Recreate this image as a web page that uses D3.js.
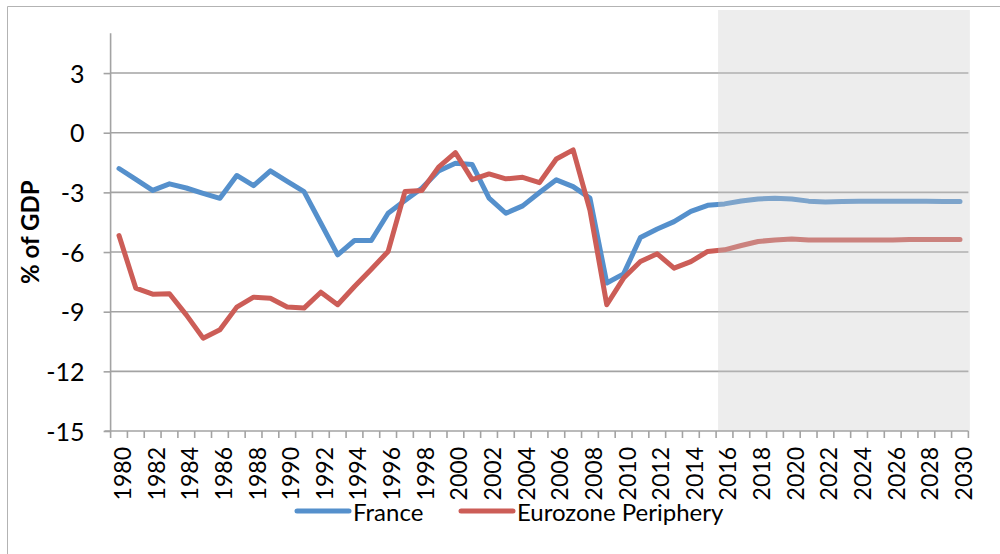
<!DOCTYPE html>
<html>
<head>
<meta charset="utf-8">
<script src="https://cdn.jsdelivr.net/npm/d3@7"></script>
<style>
  body { margin: 0; background: #fff; }
  svg text { font-family: Lato, "Open Sans", sans-serif; fill: #000; }
</style>
</head>
<body>
<div id="chart-container"></div>
<script>
// categories
const years = [1980, 1981, 1982, 1983, 1984, 1985, 1986, 1987, 1988, 1989,
  1990, 1991, 1992, 1993, 1994, 1995, 1996, 1997, 1998, 1999,
  2000, 2001, 2002, 2003, 2004, 2005, 2006, 2007, 2008, 2009,
  2010, 2011, 2012, 2013, 2014, 2015, 2016, 2017, 2018, 2019,
  2020, 2021, 2022, 2023, 2024, 2025, 2026, 2027, 2028, 2029, 2030];

// series values, % of GDP
const france = [-1.8, -2.35, -2.9, -2.57, -2.78, -3.05, -3.3, -2.15, -2.66, -1.92,
  -2.45, -2.96, -4.55, -6.14, -5.42, -5.42, -4.05, -3.41, -2.79, -1.92,
  -1.53, -1.6, -3.29, -4.05, -3.68, -3.01, -2.37, -2.71, -3.29, -7.56,
  -7.1, -5.27, -4.84, -4.47, -3.96, -3.65, -3.58, -3.43, -3.33, -3.29,
  -3.33, -3.44, -3.48, -3.46, -3.45, -3.45, -3.45, -3.45, -3.45, -3.46, -3.46];

const periphery = [-5.17, -7.82, -8.12, -8.1, -9.16, -10.33, -9.91, -8.77, -8.27, -8.32,
  -8.76, -8.82, -8.02, -8.65, -7.73, -6.86, -5.97, -2.96, -2.91, -1.73,
  -1.0, -2.36, -2.07, -2.32, -2.24, -2.51, -1.32, -0.86, -3.9, -8.65,
  -7.31, -6.48, -6.09, -6.81, -6.48, -5.97, -5.89, -5.67, -5.47, -5.39,
  -5.35, -5.4, -5.4, -5.4, -5.4, -5.4, -5.4, -5.37, -5.37, -5.37, -5.37];

const yTicks = [-15, -12, -9, -6, -3, 0, 3];
const forecastStart = 2016;

const seriesNames = ["France", "Eurozone Periphery"];
const seriesColors = ["#5590CC", "#CC5D57"];

const width = 1000;
const height = 554;
const margin = { left: 110.6, right: 31.6, top: 33.3, bottom: 123 };

const svg = d3.select("#chart-container")
    .append("svg")
    .attr("width", width)
    .attr("height", height);

// outer chart border (clipped at right/bottom)
svg.append("path")
    .attr("d", `M7.5,${height} V6.5 H${width}`)
    .attr("fill", "none")
    .attr("stroke", "#b3b3b3")
    .attr("stroke-width", 1);

const xScale = d3.scaleBand()
    .domain(years)
    .range([margin.left, width - margin.right]);

const yScale = d3.scaleLinear()
    .domain([-15, 5])
    .range([height - margin.bottom, margin.top]);

// gridlines
svg.append("g")
    .selectAll("line")
    .data(yTicks.filter(t => t !== -15))
    .enter()
    .append("line")
    .attr("x1", margin.left)
    .attr("x2", width - margin.right)
    .attr("y1", d => yScale(d))
    .attr("y2", d => yScale(d))
    .attr("stroke", "#a3a3a3")
    .attr("stroke-width", 1.6);

// lines
const line = d3.line()
    .x((d, i) => xScale(years[i]) + xScale.bandwidth() / 2)
    .y(d => yScale(d));

[france, periphery].forEach((values, k) => {
  svg.append("path")
      .datum(values)
      .attr("d", line)
      .attr("fill", "none")
      .attr("stroke", seriesColors[k])
      .attr("stroke-width", 5)
      .attr("stroke-linejoin", "round")
      .attr("stroke-linecap", "round");
});

// forecast shading laid over the lines
svg.append("rect")
    .attr("x", xScale(forecastStart) + 2)
    .attr("y", 10)
    .attr("width", width - margin.right + 1.5 - xScale(forecastStart) - 2)
    .attr("height", yScale(-15) - 10)
    .attr("fill", "rgb(202,202,202)")
    .attr("fill-opacity", 0.34);

// y axis
const yAxis = svg.append("g")
    .attr("transform", `translate(${margin.left}, 0)`)
    .call(d3.axisLeft(yScale).tickValues(yTicks).tickFormat(d => String(d))
      .tickSize(7).tickPadding(19));
yAxis.select(".domain").attr("stroke", "#a3a3a3").attr("stroke-width", 1.6)
    .attr("d", `M0,${yScale(5)}V${yScale(-15)}`);
yAxis.selectAll(".tick line").attr("stroke", "#a3a3a3").attr("stroke-width", 1.6);
yAxis.selectAll(".tick text")
    .style("font-size", "25px")
    .attr("dy", "0.36em");

// x axis: tick marks between categories, labels on even years
const xAxisG = svg.append("g")
    .attr("transform", `translate(0, ${yScale(-15)})`);
xAxisG.append("line")
    .attr("x1", margin.left - 6)
    .attr("x2", width - margin.right)
    .attr("stroke", "#a3a3a3")
    .attr("stroke-width", 1.6);
xAxisG.selectAll(".xtick")
    .data(years.concat([null]))
    .enter()
    .append("line")
    .attr("class", "xtick")
    .attr("x1", d => d === null ? width - margin.right : xScale(d))
    .attr("x2", d => d === null ? width - margin.right : xScale(d))
    .attr("y1", 0)
    .attr("y2", 7)
    .attr("stroke", "#a3a3a3")
    .attr("stroke-width", 1.6);
xAxisG.selectAll(".xlabel")
    .data(years.filter(y => y % 2 === 0))
    .enter()
    .append("text")
    .attr("class", "xlabel")
    .attr("transform", d => `translate(${xScale(d) + xScale.bandwidth() / 2}, 16) rotate(-90)`)
    .attr("text-anchor", "end")
    .attr("dy", "0.52em")
    .style("font-size", "23px")
    .text(d => d);

// y axis title
svg.append("text")
    .attr("transform", `translate(39, ${yScale(-5)}) rotate(-90)`)
    .attr("text-anchor", "middle")
    .style("font-size", "24px")
    .style("font-weight", "bold")
    .text("% of GDP");

// legend
const legendItems = [
  { name: seriesNames[0], color: seriesColors[0], x: 295 },
  { name: seriesNames[1], color: seriesColors[1], x: 459 }
];
const legend = svg.append("g");
legendItems.forEach(item => {
  legend.append("line")
      .attr("x1", item.x + 2)
      .attr("x2", item.x + 54)
      .attr("y1", 511)
      .attr("y2", 511)
      .attr("stroke", item.color)
      .attr("stroke-width", 5)
      .attr("stroke-linecap", "round");
  legend.append("text")
      .attr("x", item.x + 58)
      .attr("y", 521)
      .style("font-size", "24px")
      .text(item.name);
});
</script>
</body>
</html>
